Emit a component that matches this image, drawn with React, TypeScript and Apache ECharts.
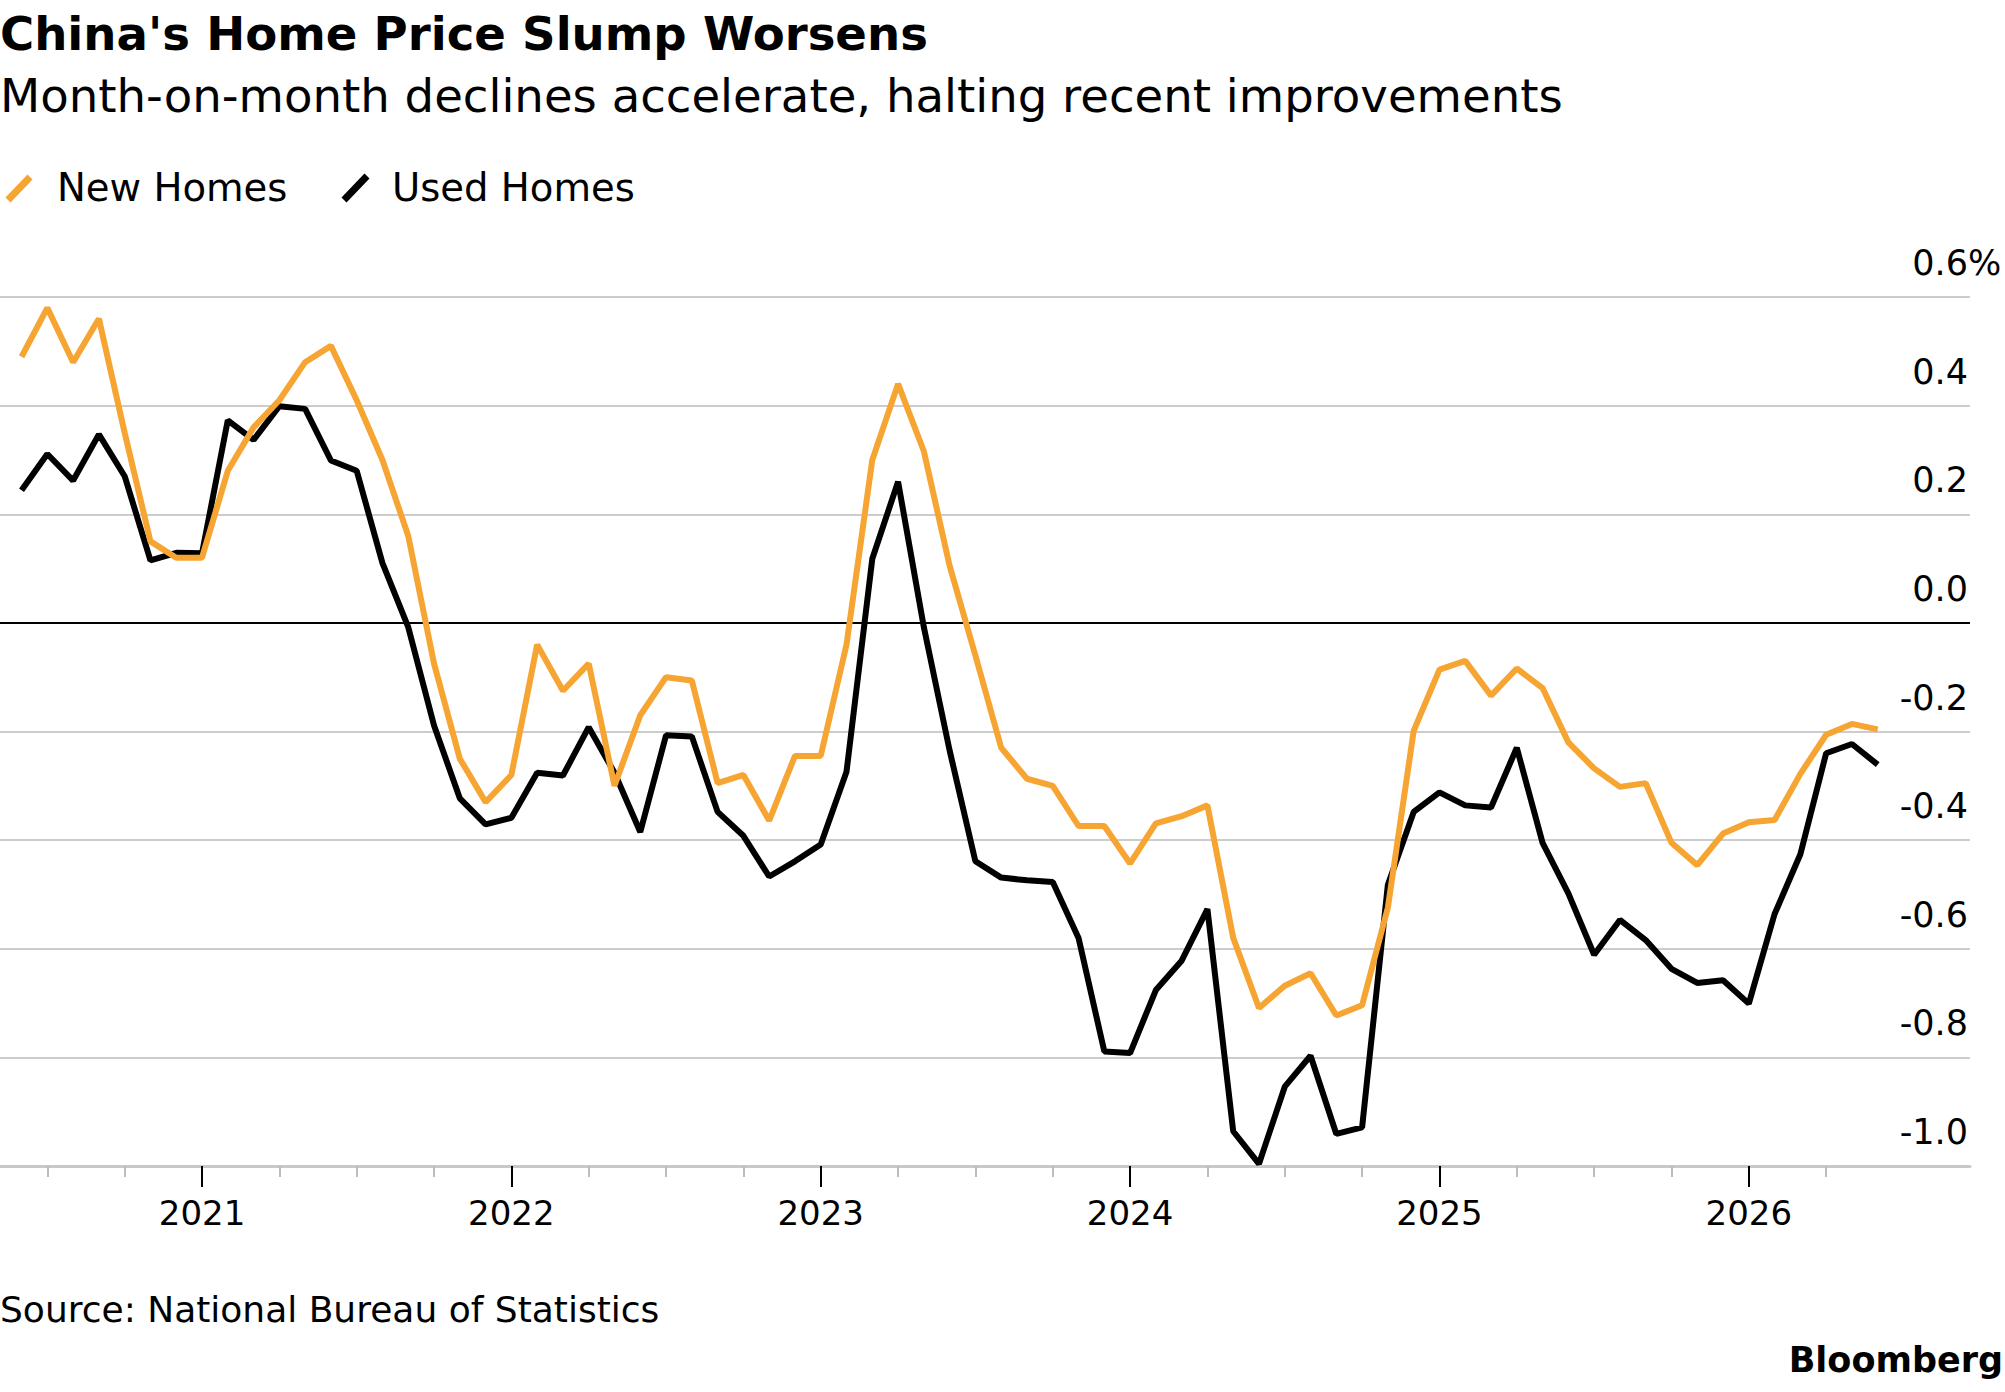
import React, { useEffect, useRef } from 'react';
import * as echarts from 'echarts';

// Monthly observations, Jun 2020 – Jun 2026
const months = [
  '2020-06', '2020-07', '2020-08', '2020-09', '2020-10', '2020-11', '2020-12',
  '2021-01', '2021-02', '2021-03', '2021-04', '2021-05', '2021-06', '2021-07', '2021-08', '2021-09', '2021-10', '2021-11', '2021-12',
  '2022-01', '2022-02', '2022-03', '2022-04', '2022-05', '2022-06', '2022-07', '2022-08', '2022-09', '2022-10', '2022-11', '2022-12',
  '2023-01', '2023-02', '2023-03', '2023-04', '2023-05', '2023-06', '2023-07', '2023-08', '2023-09', '2023-10', '2023-11', '2023-12',
  '2024-01', '2024-02', '2024-03', '2024-04', '2024-05', '2024-06', '2024-07', '2024-08', '2024-09', '2024-10', '2024-11', '2024-12',
  '2025-01', '2025-02', '2025-03', '2025-04', '2025-05', '2025-06', '2025-07', '2025-08', '2025-09', '2025-10', '2025-11', '2025-12',
  '2026-01', '2026-02', '2026-03', '2026-04', '2026-05', '2026-06',
];

const newHomes = [
  0.49, 0.58, 0.48, 0.56, 0.35, 0.15, 0.12,
  0.12, 0.28, 0.36, 0.41, 0.48, 0.51, 0.41, 0.30, 0.16, -0.075, -0.25, -0.33,
  -0.28, -0.04, -0.125, -0.075, -0.30, -0.17, -0.10, -0.106, -0.295, -0.28, -0.364, -0.245,
  -0.245, -0.04, 0.30, 0.44, 0.316, 0.105, -0.06, -0.23, -0.287, -0.30, -0.374, -0.374,
  -0.443, -0.369, -0.356, -0.336, -0.58, -0.709, -0.668, -0.645, -0.723, -0.704, -0.524, -0.199,
  -0.086, -0.07, -0.134, -0.084, -0.12, -0.22, -0.268, -0.302, -0.295, -0.405, -0.446, -0.388,
  -0.367, -0.363, -0.278, -0.206, -0.186, -0.196,
];

const usedHomes = [
  0.244, 0.311, 0.262, 0.347, 0.27, 0.115, 0.129,
  0.128, 0.373, 0.337, 0.399, 0.394, 0.299, 0.28, 0.11, -0.008, -0.189, -0.323, -0.371,
  -0.359, -0.276, -0.281, -0.192, -0.276, -0.385, -0.207, -0.209, -0.348, -0.392, -0.467, -0.439,
  -0.408, -0.274, 0.118, 0.26, -0.008, -0.235, -0.439, -0.469, -0.474, -0.477, -0.58, -0.789,
  -0.792, -0.676, -0.622, -0.527, -0.936, -0.996, -0.854, -0.797, -0.941, -0.929, -0.482, -0.348,
  -0.312, -0.336, -0.34, -0.23, -0.405, -0.498, -0.611, -0.547, -0.584, -0.637, -0.663, -0.658,
  -0.701, -0.536, -0.426, -0.24, -0.223, -0.261,
];

const yearLabels = ['2021', '2022', '2023', '2024', '2025', '2026'];

const ORANGE = '#F6A432';
const FONT = '"DejaVu Sans", "Liberation Sans", sans-serif';

function monthIndex(m: string): number {
  const [y, mo] = m.split('-').map(Number);
  return (y - 2020) * 12 + (mo - 1);
}

export default function App() {
  const ref = useRef<HTMLDivElement>(null);

  useEffect(() => {
    document.body.style.margin = '0';
    document.body.style.overflow = 'hidden';
    const chart = echarts.init(ref.current!, null, { renderer: 'svg' });

    const yearTicks = yearLabels.map((y) => monthIndex(y + '-01'));
    const quarterTicks: number[] = [];
    for (let v = 6; v <= 75; v += 3) if (v % 12 !== 0) quarterTicks.push(v);

    const xMin = 4.164;
    const xMax = 80.58;

    const newData = months.map((m, i) => [monthIndex(m), newHomes[i]]);
    const usedData = months.map((m, i) => [monthIndex(m), usedHomes[i]]);

    const option: any = {
      animation: false,
      backgroundColor: '#ffffff',
      grid: { left: 0, right: 35, top: 297, bottom: 226, containLabel: false },
      xAxis: [
        {
          type: 'value',
          min: xMin,
          max: xMax,
          position: 'bottom',
          axisLine: { show: true, onZero: false, lineStyle: { color: '#c8c8c8', width: 3 } },
          axisTick: { show: true, customValues: quarterTicks, length: 11, lineStyle: { color: '#bdbdbd', width: 2 } },
          axisLabel: { show: false },
          splitLine: { show: false },
        },
        {
          type: 'value',
          min: xMin,
          max: xMax,
          position: 'bottom',
          axisLine: { show: false, onZero: false },
          axisTick: { show: true, customValues: yearTicks, length: 21, lineStyle: { color: '#000', width: 2 } },
          axisLabel: {
            show: true,
            customValues: yearTicks,
            formatter: (v: number) => {
              const k = yearTicks.indexOf(Math.round(v));
              return k >= 0 ? yearLabels[k] : '';
            },
            margin: 30,
            fontSize: 34,
            lineHeight: 34,
            fontFamily: FONT,
            color: '#000',
          },
          splitLine: { show: false },
        },
      ],
      yAxis: {
        type: 'value',
        min: -1,
        max: 0.6,
        interval: 0.2,
        position: 'right',
        axisLine: { show: false, onZero: false },
        axisTick: { show: false },
        splitLine: { show: true, lineStyle: { color: '#cccccc', width: 2 } },
        axisLabel: {
          inside: true,
          margin: 2,
          align: 'right',
          verticalAlign: 'bottom',
          lineHeight: 68,
          fontSize: 35,
          fontFamily: FONT,
          color: '#000',
          formatter: (v: number) => {
            const r = Math.round(v * 10) / 10;
            return (r === 0 ? 0 : r).toFixed(1);
          },
        },
      },
      series: [
        {
          name: 'Used Homes',
          type: 'line',
          data: usedData,
          showSymbol: false,
          symbol: 'none',
          lineStyle: { color: '#000000', width: 6 },
          itemStyle: { color: '#000000' },
          z: 3,
          markLine: {
            silent: true,
            symbol: 'none',
            label: { show: false },
            lineStyle: { color: '#000', width: 2, type: 'solid' },
            data: [{ yAxis: 0 }],
            z: 1,
          },
        },
        {
          name: 'New Homes',
          type: 'line',
          data: newData,
          showSymbol: false,
          symbol: 'none',
          lineStyle: { color: ORANGE, width: 6 },
          itemStyle: { color: ORANGE },
          z: 4,
        },
      ],
      graphic: [
        {
          type: 'text', x: 0, y: 34,
          style: { text: "China's Home Price Slump Worsens", fontSize: 46.6, fontWeight: 'bold', fontFamily: FONT, fill: '#000', align: 'left', verticalAlign: 'middle' },
        },
        {
          type: 'text', x: 0, y: 96,
          style: { text: 'Month-on-month declines accelerate, halting recent improvements', fontSize: 46.6, fontFamily: FONT, fill: '#000', align: 'left', verticalAlign: 'middle' },
        },
        { type: 'line', shape: { x1: 8, y1: 200, x2: 30, y2: 177 }, style: { stroke: ORANGE, lineWidth: 7 } },
        {
          type: 'text', x: 57, y: 187,
          style: { text: 'New Homes', fontSize: 38.6, fontFamily: FONT, fill: '#000', align: 'left', verticalAlign: 'middle' },
        },
        { type: 'line', shape: { x1: 344, y1: 200, x2: 367, y2: 176 }, style: { stroke: '#000', lineWidth: 7 } },
        {
          type: 'text', x: 392, y: 187,
          style: { text: 'Used Homes', fontSize: 38.6, fontFamily: FONT, fill: '#000', align: 'left', verticalAlign: 'middle' },
        },
        {
          type: 'text', x: 1968, y: 263,
          style: { text: '%', fontSize: 35, fontFamily: FONT, fill: '#000', align: 'left', verticalAlign: 'middle' },
        },
        {
          type: 'text', x: 0, y: 1309,
          style: { text: 'Source: National Bureau of Statistics', fontSize: 36, fontFamily: FONT, fill: '#000', align: 'left', verticalAlign: 'middle' },
        },
        {
          type: 'text', x: 2003, y: 1360,
          style: { text: 'Bloomberg', fontSize: 35, fontWeight: 'bold', fontFamily: FONT, fill: '#000', align: 'right', verticalAlign: 'middle' },
        },
      ],
    };

    chart.setOption(option);
    return () => chart.dispose();
  }, []);

  return (
    <div
      ref={ref}
      style={{ position: 'absolute', left: 0, top: 0, width: 2005, height: 1392, background: '#fff' }}
    />
  );
}
